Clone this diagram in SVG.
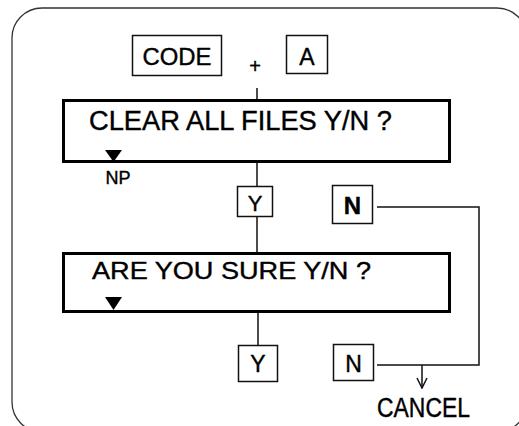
<svg xmlns="http://www.w3.org/2000/svg" width="519" height="426" viewBox="0 0 519 426">
<style>
  .frame{fill:none;stroke:#333;stroke-width:1.3}
  .key{fill:#fff;stroke:#111;stroke-width:1.5}
  .disp{fill:#fff;stroke:#000;stroke-width:3}
  .t{font-family:"Liberation Sans",Arial,sans-serif;fill:#000;stroke:#000;stroke-width:0.4}
  .ln{fill:none;stroke:#111;stroke-width:1.5}
  .tri{fill:#000}
</style>
<defs>
  <marker id="open" viewBox="0 0 12 12" refX="11" refY="6" markerWidth="12" markerHeight="12" orient="auto" markerUnits="userSpaceOnUse">
    <path d="M1,1 L11,6 L1,11" fill="none" stroke="#111" stroke-width="1.5"/>
  </marker>
</defs>
<rect class="frame" x="12" y="8" width="515" height="424" rx="30" ry="30"/>

<g id="connectors">
  <line class="ln" x1="257" y1="88" x2="257" y2="99"/>
  <line class="ln" x1="257" y1="162" x2="257" y2="186"/>
  <line class="ln" x1="257" y1="216" x2="257" y2="253"/>
  <line class="ln" x1="258" y1="312" x2="258" y2="345"/>
  <polyline class="ln" points="377,207 479,207 479,365 377,365"/>
  <line class="ln" x1="422" y1="365" x2="422" y2="388" marker-end="url(#open)"/>
</g>

<g id="code">
  <rect class="key" x="132.5" y="35.5" width="89" height="40"/>
  <text class="t" x="177" y="64.5" font-size="24" text-anchor="middle" textLength="69" lengthAdjust="spacingAndGlyphs">CODE</text>
</g>
<g id="plus">
  <text class="t" x="255" y="73" font-size="20" text-anchor="middle">+</text>
</g>
<g id="keyA">
  <rect class="key" x="286.5" y="35.5" width="41" height="38"/>
  <text class="t" x="307" y="64.5" font-size="23" text-anchor="middle">A</text>
</g>

<g id="clear">
  <rect class="disp" x="63.5" y="100.5" width="386" height="61"/>
  <text class="t" x="89" y="129.5" font-size="27" textLength="303" lengthAdjust="spacingAndGlyphs">CLEAR ALL FILES Y/N ?</text>
  <path class="tri" d="M105,150 L122,150 L113.5,162 Z"/>
  <text class="t" x="118" y="183.5" font-size="18" text-anchor="middle">NP</text>
</g>

<g id="y1">
  <rect class="key" x="237.5" y="186.5" width="35" height="30"/>
  <text class="t" x="255" y="210.5" font-size="22" text-anchor="middle">Y</text>
</g>
<g id="n1">
  <rect class="key" x="332.5" y="185.5" width="40" height="38"/>
  <text class="t" x="352.5" y="213.5" font-size="24" text-anchor="middle" font-weight="bold">N</text>
</g>

<g id="sure">
  <rect class="disp" x="63.5" y="253.5" width="386" height="58"/>
  <text class="t" x="92" y="279" font-size="24" textLength="279" lengthAdjust="spacingAndGlyphs">ARE YOU SURE Y/N ?</text>
  <path class="tri" d="M105,297 L122,297 L113.5,310 Z"/>
</g>

<g id="y2">
  <rect class="key" x="238.5" y="345.5" width="39" height="36"/>
  <text class="t" x="258" y="372" font-size="23" text-anchor="middle">Y</text>
</g>
<g id="n2">
  <rect class="key" x="333.5" y="344.5" width="40" height="36"/>
  <text class="t" x="353.5" y="372" font-size="23" text-anchor="middle">N</text>
</g>

<g id="cancel">
  <text class="t" x="377" y="417" font-size="27" textLength="93" lengthAdjust="spacingAndGlyphs">CANCEL</text>
</g>
</svg>
